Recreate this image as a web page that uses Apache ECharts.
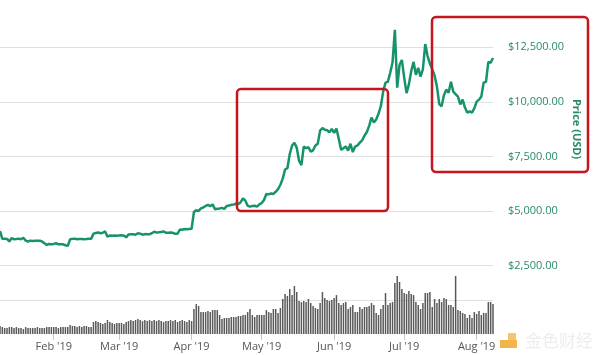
<!DOCTYPE html>
<html>
<head>
<meta charset="utf-8">
<script src="https://cdn.jsdelivr.net/npm/echarts@6/dist/echarts.min.js"></script>
<style>
    html, body { margin: 0; padding: 0; background: #fff; }
    #chart { width: 600px; height: 355px; }
</style>
</head>
<body>
<div id="chart"></div>
<script>
// daily BTC price (USD), 9 Jan 2019 .. 8 Aug 2019, split by month
var priceJan = [4080, 3720, 3730, 3720, 3600, 3760, 3700, 3710, 3730, 3700, 3770, 3640, 3600, 3640, 3620, 3630, 3630, 3640, 3600, 3520, 3440, 3490, 3470];
var priceFeb = [3490, 3520, 3470, 3470, 3470, 3430, 3400, 3700, 3720, 3730, 3700, 3720, 3710, 3700, 3710, 3730, 3720, 3960, 3990, 4010, 3980, 4000, 4060, 3820, 3870, 3860, 3870, 3860];
var priceMar = [3880, 3890, 3870, 3790, 3920, 3930, 3930, 3910, 3980, 3960, 3910, 3940, 3930, 3930, 3980, 4050, 4010, 4020, 4040, 4060, 4000, 4000, 4010, 4000, 3950, 3960, 4150, 4140, 4170, 4160, 4170];
var priceApr = [4180, 4950, 5030, 5000, 5120, 5160, 5230, 5280, 5220, 5300, 5080, 5100, 5110, 5140, 5090, 5230, 5250, 5280, 5290, 5340, 5320, 5400, 5580, 5470, 5240, 5200, 5230, 5240, 5200, 5300];
var priceMay = [5360, 5500, 5780, 5760, 5800, 5780, 5880, 6000, 6200, 6480, 6900, 6960, 7600, 8000, 8120, 7900, 7300, 7100, 7950, 7880, 7920, 7720, 7780, 8000, 8080, 8680, 8800, 8720, 8700, 8600, 8760];
var priceJun = [8580, 8780, 8300, 7800, 7870, 7960, 7760, 8080, 7700, 7950, 8000, 8130, 8240, 8450, 8620, 8900, 9280, 9050, 9190, 9450, 9800, 10480, 10880, 10920, 11330, 11800, 13300, 10650, 11700, 11920];
var priceJul = [11100, 10400, 10800, 11400, 11830, 11240, 11560, 11150, 11500, 12650, 12100, 11750, 11500, 11200, 10700, 9900, 9800, 10300, 10560, 10420, 10920, 10470, 10350, 10240, 9880, 10100, 9740, 9510, 9560, 9510, 9700];
var priceAug = [10010, 10100, 10240, 10880, 10920, 11830, 11790, 12010];

// daily volume (USD bn)
var volJan = [4.7, 4.1, 3.5, 3.5, 4.1, 4.1, 3.5, 4.1, 3.5, 3.5, 2.9, 4.1, 3.5, 3.5, 3.5, 3.5, 4.1, 3.5, 3.5, 3.5, 4.1, 4.1, 4.1];
var volFeb = [4.1, 4.1, 3.5, 4.1, 4.1, 4.1, 4.1, 5.3, 4.7, 4.7, 4.1, 4.7, 4.1, 4.7, 4.7, 4.1, 4.1, 7.1, 7.6, 7.1, 6.5, 5.9, 6.5, 8.2, 7.1, 6.5, 5.9, 6.5];
var volMar = [6.5, 6.5, 5.9, 7.1, 7.6, 8.2, 7.6, 8.2, 8.8, 8.2, 7.6, 8.2, 7.6, 8.2, 7.6, 8.2, 7.6, 8.2, 7.6, 7.1, 7.6, 7.6, 8.2, 7.6, 8.2, 7.1, 7.6, 8.2, 7.6, 7.1, 8.2];
var volApr = [7.6, 14.7, 17.6, 16.5, 12.9, 12.9, 12.9, 13.5, 12.9, 14.1, 14.1, 14.1, 11.2, 8.8, 9.4, 9.4, 9.4, 10.0, 10.0, 10.0, 10.6, 10.6, 11.2, 11.2, 12.9, 14.7, 11.2, 10.0, 11.2, 11.2];
var volMay = [11.2, 11.2, 14.1, 12.9, 12.4, 14.7, 14.7, 12.4, 15.3, 20.6, 23.5, 22.4, 26.5, 22.9, 28.2, 24.7, 19.4, 18.8, 19.4, 18.8, 20.6, 18.2, 16.5, 15.3, 14.7, 18.2, 24.7, 21.2, 20.0, 19.4, 20.0];
var volJun = [21.2, 22.9, 18.2, 17.1, 18.2, 18.8, 14.7, 15.9, 17.1, 12.9, 12.9, 15.9, 14.7, 15.9, 15.9, 16.5, 18.2, 17.1, 12.4, 11.2, 14.7, 17.1, 24.1, 17.1, 18.2, 18.8, 30.0, 34.1, 30.6, 26.5];
var volJul = [24.1, 23.5, 25.3, 23.5, 22.9, 18.8, 17.1, 14.7, 18.2, 24.1, 24.1, 24.7, 15.9, 20.6, 18.2, 20.6, 18.8, 21.2, 20.6, 17.1, 17.1, 15.9, 34.1, 14.1, 13.5, 12.4, 11.8, 9.4, 11.2, 9.4, 12.9];
var volAug = [11.8, 13.5, 11.2, 12.4, 12.4, 18.8, 18.8, 17.6];

var monthNames = ['Jan', 'Feb', 'Mar', 'Apr', 'May', 'Jun', 'Jul', 'Aug'];
var priceTicks = [2500, 5000, 7500, 10000, 12500];

var prices = [].concat(priceJan, priceFeb, priceMar, priceApr, priceMay, priceJun, priceJul, priceAug);
var volumes = [].concat(volJan, volFeb, volMar, volApr, volMay, volJun, volJul, volAug);

// one category per day starting 2019-01-09
var days = [];
var start = Date.UTC(2019, 0, 9);
for (var i = 0; i < prices.length; i++) {
    var d = new Date(start + i * 86400000);
    days.push(d.getUTCFullYear() + '-' + (d.getUTCMonth() + 1) + '-' + d.getUTCDate());
}
var isMonthStart = function (index, value) {
    return value.split('-')[2] === '1';
};

var green = '#17936c';
var chart = echarts.init(document.getElementById('chart'), null, {renderer: 'canvas'});
chart.setOption({
    animation: false,
    backgroundColor: '#fff',
    textStyle: {fontFamily: 'Open Sans'},
    grid: [
        {left: 0, right: 107, top: 47.3, bottom: 89.5},
        {left: 0, right: 107, top: 266, bottom: 21}
    ],
    xAxis: [
        {
            type: 'category', gridIndex: 0, data: days, boundaryGap: false,
            show: false
        },
        {
            type: 'category', gridIndex: 1, data: days, boundaryGap: false,
            axisLine: {show: false},
            axisTick: {show: true, interval: isMonthStart, length: 6, lineStyle: {color: '#c8c8c8'}},
            axisLabel: {
                interval: isMonthStart, margin: 7, color: '#555', fontSize: 11,
                formatter: function (value) {
                    return monthNames[parseInt(value.split('-')[1], 10) - 1] + " '19";
                }
            },
            splitLine: {show: false}
        }
    ],
    yAxis: [
        {
            type: 'value', gridIndex: 0, position: 'right',
            min: priceTicks[0], max: priceTicks[priceTicks.length - 1], interval: 2500,
            axisLine: {show: false}, axisTick: {show: false},
            axisLabel: {
                margin: 15, color: '#2b8a6e', fontSize: 11, padding: [0, 0, 11, 0],
                formatter: function (v) {
                    return '$' + v.toLocaleString('en-US', {minimumFractionDigits: 2, maximumFractionDigits: 2});
                }
            },
            splitLine: {lineStyle: {color: '#e0e0e0', width: 1}}
        },
        {
            type: 'value', gridIndex: 1, min: 0, max: 40, interval: 20,
            axisLine: {show: false}, axisTick: {show: false}, axisLabel: {show: false},
            splitLine: {lineStyle: {color: ['transparent', '#e0e0e0'], width: 1}}
        }
    ],
    series: [
        {
            name: 'Volume', type: 'bar', xAxisIndex: 1, yAxisIndex: 1,
            data: volumes, barWidth: 1.5,
            itemStyle: {color: '#595959'}
        },
        {
            name: 'Price', type: 'line', xAxisIndex: 0, yAxisIndex: 0,
            data: prices, showSymbol: false, clip: false,
            lineStyle: {color: green, width: 2.5}
        }
    ],
    graphic: [
        {
            type: 'text', x: 576, y: 129, rotation: -Math.PI / 2,
            style: {
                text: 'Price (USD)', fill: '#2b8a6e', font: 'bold 11px "Open Sans"',
                align: 'center', verticalAlign: 'middle'
            }
        },
        {
            type: 'rect', z: 100,
            shape: {x: 237, y: 89, width: 151, height: 122, r: 4},
            style: {fill: 'none', stroke: '#c4161c', lineWidth: 2.5}
        },
        {
            type: 'rect', z: 100,
            shape: {x: 432, y: 17, width: 156, height: 155, r: 4},
            style: {fill: 'none', stroke: '#c4161c', lineWidth: 2.5}
        },
        {
            type: 'rect', z: 100,
            shape: {x: 508, y: 333, width: 8, height: 7},
            style: {fill: '#f3c66a'}
        },
        {
            type: 'rect', z: 100,
            shape: {x: 500, y: 340, width: 17, height: 8},
            style: {fill: '#f0b64c'}
        },
        {
            type: 'text', z: 100, x: 525, y: 341,
            style: {
                text: '金色财经', fill: '#ededed', font: '17px "Noto Sans CJK SC"',
                verticalAlign: 'middle'
            }
        }
    ]
});
</script>
</body>
</html>
